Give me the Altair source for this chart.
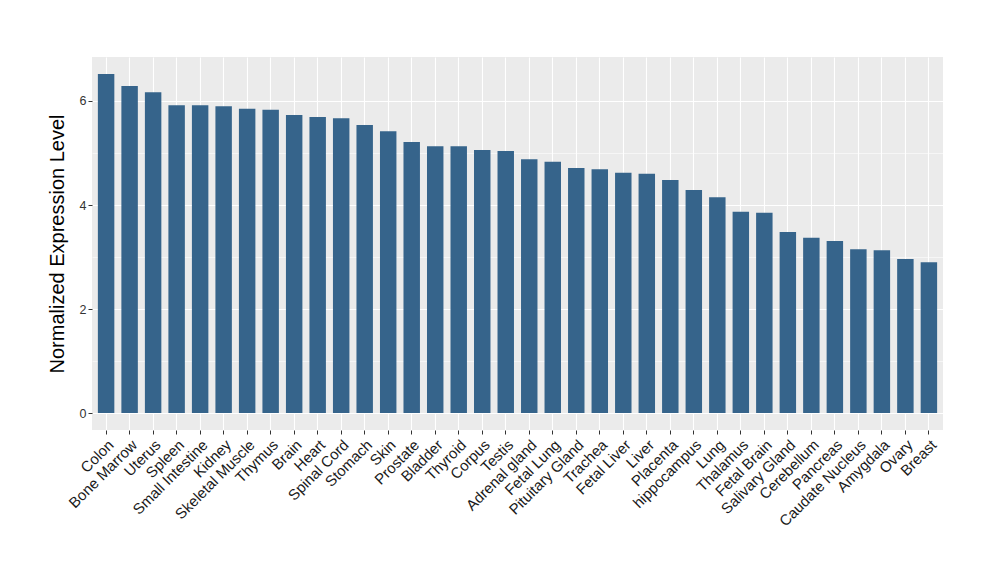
import altair as alt
import pandas as pd

tissues = ["Colon", "Bone Marrow", "Uterus", "Spleen", "Small Intestine", "Kidney",
           "Skeletal Muscle", "Thymus", "Brain", "Heart", "Spinal Cord", "Stomach",
           "Skin", "Prostate", "Bladder", "Thyroid", "Corpus", "Testis",
           "Adrenal gland", "Fetal Lung", "Pituitary Gland", "Trachea", "Fetal Liver",
           "Liver", "Placenta", "hippocampus", "Lung", "Thalamus", "Fetal Brain",
           "Salivary Gland", "Cerebellum", "Pancreas", "Caudate Nucleus", "Amygdala",
           "Ovary", "Breast"]
values = [6.52, 6.29, 6.17, 5.92, 5.92, 5.90,
          5.85, 5.83, 5.73, 5.69, 5.67, 5.54,
          5.42, 5.21, 5.13, 5.13, 5.06, 5.04,
          4.88, 4.83, 4.71, 4.69, 4.62,
          4.60, 4.48, 4.29, 4.15, 3.87, 3.85,
          3.48, 3.37, 3.31, 3.15, 3.13,
          2.96, 2.90]
major_ticks = [0, 2, 4, 6]
minor_ticks = [1, 3, 5]

df = pd.DataFrame({"tissue": tissues, "value": values})

FONT = "Liberation Sans"
ymax = max(values)
yscale = alt.Scale(domain=[-0.05 * ymax, 1.05 * ymax], nice=False, zero=False)
xscale = alt.Scale(paddingInner=0.3, paddingOuter=0.25)

xaxis = alt.Axis(title=None, labelAngle=-45, labelAlign="right",
                 labelBaseline="top", labelFont=FONT, labelFontSize=15,
                 labelColor="#1A1A1A", labelPadding=3, bandPosition=0.5,
                 grid=True, gridColor="white", gridWidth=1.1,
                 ticks=True, tickSize=4, tickColor="#333333", tickWidth=1,
                 domain=False, labelOverlap=False)

minor = alt.Chart(df).mark_bar(opacity=0).encode(
    x=alt.X("tissue:N", sort=tissues, scale=xscale, axis=xaxis),
    y=alt.Y("value:Q", scale=yscale,
            axis=alt.Axis(values=minor_ticks, labels=False, ticks=False, domain=False,
                          title=None, grid=True, gridColor="white", gridWidth=0.55,
                          orient="left")),
)

bars = alt.Chart(df).mark_bar(color="#36648B").encode(
    x=alt.X("tissue:N", sort=tissues, scale=xscale, axis=xaxis),
    y=alt.Y("value:Q", scale=yscale,
            axis=alt.Axis(values=major_ticks, title="Normalized Expression Level",
                          titleFont=FONT, titleFontSize=20, titleFontWeight="normal",
                          titleColor="black", titlePadding=12,
                          labelFont=FONT, labelFontSize=12.5, labelColor="#333333",
                          labelPadding=2, grid=True, gridColor="white", gridWidth=1.1,
                          ticks=True, tickSize=4, tickColor="#333333", tickWidth=1,
                          domain=False, orient="left")),
)

chart = alt.layer(minor, bars).resolve_axis(y="independent").properties(
    width=851, height=373,
    autosize=alt.AutoSizeParams(type="none"),
    padding={"left": 84, "top": 49, "right": 40, "bottom": 120},
    background="white",
).configure_view(fill="#EBEBEB", stroke=None)

chart.save("out.html", embed_options={"renderer": "svg", "actions": False})
